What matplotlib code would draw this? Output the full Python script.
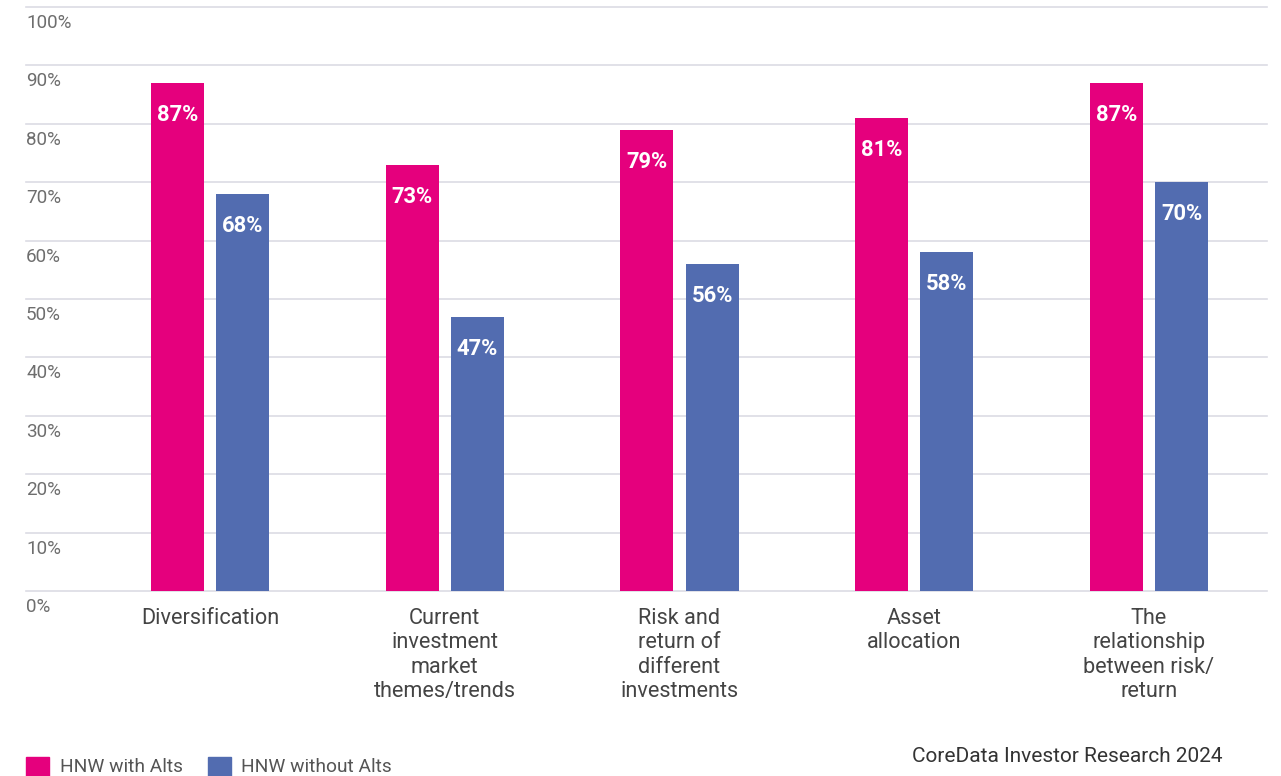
import numpy as np
import matplotlib.pyplot as plt
from matplotlib.patches import Rectangle
from matplotlib.transforms import blended_transform_factory

plt.rcParams['font.family'] = ['Roboto', 'DejaVu Sans']

categories = ['Diversification',
              'Current\ninvestment\nmarket\nthemes/trends',
              'Risk and\nreturn of\ndifferent\ninvestments',
              'Asset\nallocation',
              'The\nrelationship\nbetween risk/\nreturn']
with_alts = [87, 73, 79, 81, 87]
without_alts = [68, 47, 56, 58, 70]
series_names = ['HNW with Alts', 'HNW without Alts']
y_ticks = [0, 10, 20, 30, 40, 50, 60, 70, 80, 90, 100]
source = 'CoreData Investor Research 2024'

pink = '#E5007D'
blue = '#526CB0'
grid_col = '#DCDCE4'

fig = plt.figure(figsize=(12.81, 7.76), dpi=100)
# axes placed to match the reference pixel layout
ax = fig.add_axes([26 / 1281, 185 / 776, (1267 - 26) / 1281, 584 / 776])

x = np.arange(len(categories))
w = 0.226
off = 0.139
b1 = ax.bar(x - off, with_alts, w, color=pink, zorder=3)
b2 = ax.bar(x + off, without_alts, w, color=blue, zorder=3)

for bars, vals in ((b1, with_alts), (b2, without_alts)):
    for rect, v in zip(bars, vals):
        ax.annotate(f'{v}%', (rect.get_x() + rect.get_width() / 2, v),
                    xytext=(0, -32), textcoords='offset pixels',
                    ha='center', va='center', color='white',
                    fontsize=15.8, fontweight='bold', zorder=4)

ax.set_xlim(-0.784, 4.503)
ax.set_ylim(0, 100)
ax.set_yticks(y_ticks)
ax.set_yticklabels([])
ax.tick_params(axis='y', length=0)
ax.yaxis.grid(True, color=grid_col, linewidth=1.2, zorder=0)
ax.set_axisbelow(True)
for ln in ax.get_ygridlines():
    ln.set_clip_on(False)

trans = blended_transform_factory(ax.transAxes, ax.transData)
for t in y_ticks:
    ax.annotate(f'{t}%', (0, t), xycoords=trans, xytext=(0, -16),
                textcoords='offset pixels', ha='left', va='center',
                fontsize=13.6, color='#6E6E6E')

ax.set_xticks(x)
ax.set_xticklabels(categories, fontsize=15.6, color='#444444',
                   linespacing=1.22)
ax.tick_params(axis='x', length=0, pad=12)
for s in ax.spines.values():
    s.set_visible(False)

# legend at the bottom-left
fig.patches.append(Rectangle((26 / 1281, 0), 23 / 1281, 19 / 776,
                             transform=fig.transFigure, color=pink))
fig.text(60 / 1281, 9 / 776, series_names[0], fontsize=13.8, color='#555555',
         va='center', ha='left')
fig.patches.append(Rectangle((208 / 1281, 0), 23 / 1281, 19 / 776,
                             transform=fig.transFigure, color=blue))
fig.text(241 / 1281, 9 / 776, series_names[1], fontsize=13.8, color='#555555',
         va='center', ha='left')

fig.text(1222 / 1281, 19 / 776, source, fontsize=15, color='#333333',
         va='center', ha='right')

fig.savefig('out.png', dpi=100)
